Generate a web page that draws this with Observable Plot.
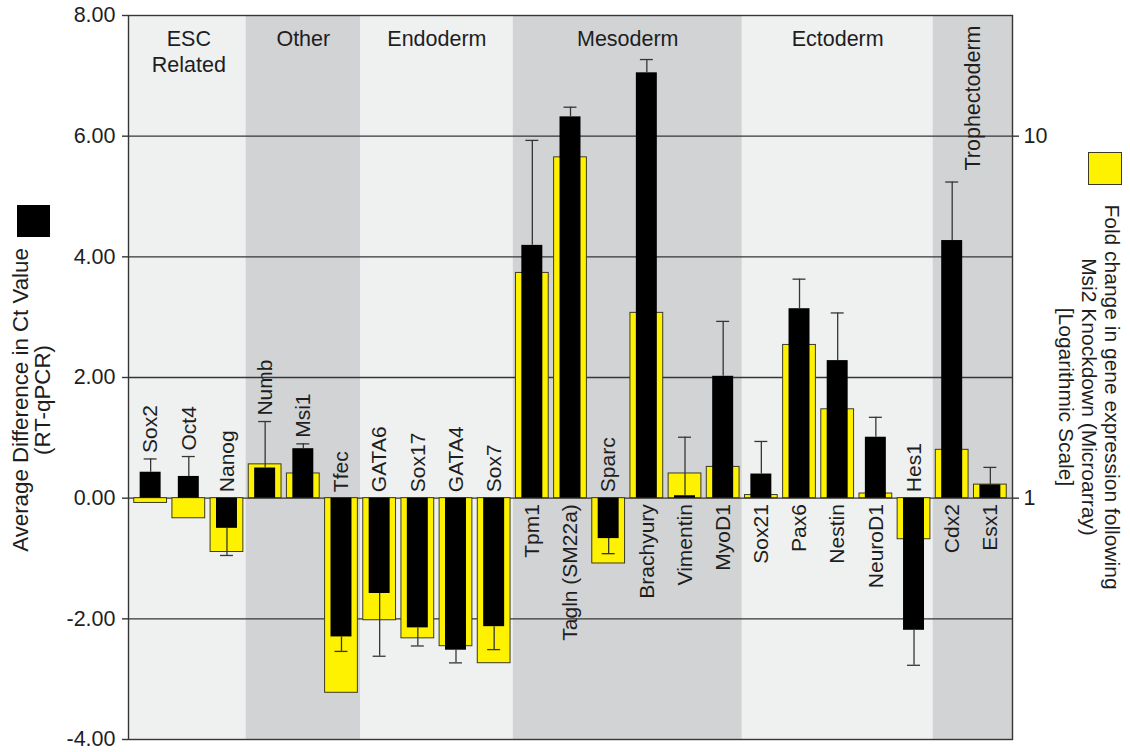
<!DOCTYPE html>
<html>
<head>
<meta charset="utf-8">
<script src="https://cdn.jsdelivr.net/npm/d3@7"></script>
<script src="https://cdn.jsdelivr.net/npm/@observablehq/plot@0.6"></script>
<style>
  html, body { margin: 0; padding: 0; background: #fff; }
  #chart svg { display: block; }
</style>
</head>
<body>
<div id="chart"></div>
<script>
// Genes in plotting order
const genes = ["Sox2", "Oct4", "Nanog", "Numb", "Msi1", "Tfec", "GATA6", "Sox17", "GATA4", "Sox7",
  "Tpm1", "Tagln (SM22a)", "Sparc", "Brachyury", "Vimentin", "MyoD1",
  "Sox21", "Pax6", "Nestin", "NeuroD1", "Hes1", "Cdx2", "Esx1"];

// Average difference in Ct value (RT-qPCR) and its error
const ctDiff = [0.43, 0.36, -0.50, 0.50, 0.82, -2.30, -1.58, -2.15, -2.52, -2.13,
  4.19, 6.32, -0.67, 7.05, 0.04, 2.02, 0.40, 3.14, 2.28, 1.01, -2.19, 4.27, 0.22];
const ctErr = [0.22, 0.33, 0.45, 0.77, 0.08, 0.24, 1.04, 0.30, 0.21, 0.38,
  1.74, 0.16, 0.25, 0.22, 0.97, 0.91, 0.54, 0.49, 0.79, 0.33, 0.58, 0.97, 0.29];

// Fold change in gene expression after Msi2 knockdown (microarray)
const foldChange = [0.97, 0.88, 0.71, 1.24, 1.17, 0.29, 0.46, 0.41, 0.39, 0.35,
  4.19, 8.74, 0.66, 3.25, 1.17, 1.22, 1.02, 2.65, 1.76, 1.03, 0.77, 1.36, 1.09];

// Lineage groups (consecutive genes)
const groupNames = ["ESC\nRelated", "Other", "Endoderm", "Mesoderm", "Ectoderm", "Trophectoderm"];
const groupSizes = [3, 3, 4, 6, 5, 2];

// Axis ticks
const leftTicks = [-4, -2, 0, 2, 4, 6, 8];
const rightTicks = [1, 10];

// One decade of fold change spans 6 Ct units on the shared vertical scale
const ctPerDecade = 6;
const foldToY = f => ctPerDecade * Math.log10(f);

const FONT = "'Liberation Sans', Arial, Helvetica, sans-serif";
const LIGHT = "#eff0f0", DARK = "#d1d3d5";
const YELLOW = "#fff200";
const INK = "#1e1e1e";
const LINE = "#363636";

// group extents in gene-index units
let acc = 0;
const groups = groupNames.map((name, g) => {
  const start = acc; acc += groupSizes[g];
  return {name, g, start, end: acc, mid: (start + acc) / 2};
});
const groupOf = i => groups.findIndex(gr => i >= gr.start && i < gr.end);

const rows = genes.map((gene, i) => ({
  gene, i,
  ct: ctDiff[i],
  err: ctErr[i],
  fold: foldChange[i],
  g: groupOf(i)
}));

const tipOf = d => d.ct + Math.sign(d.ct) * d.err;
const labelAbove = d => d.g < 2 || d.ct < 0;
const aboveAnchor = d => Math.max(0, d.ct > 0 ? tipOf(d) : 0, foldToY(d.fold));

const xPad = 0.08;
const xMin = -xPad, xMax = genes.length + xPad;
const yMin = leftTicks[0], yMax = leftTicks[leftTicks.length - 1];

// background bands reach the frame edges at both ends
const bands = groups.map(gr => ({
  ...gr,
  x1: gr.start === 0 ? xMin : gr.start,
  x2: gr.end === genes.length ? xMax : gr.end
}));

const chart = Plot.plot({
  width: 1130,
  height: 752,
  marginLeft: 128,
  marginRight: 118,
  marginTop: 15,
  marginBottom: 13,
  style: {fontFamily: FONT, fontSize: "21px", color: INK, background: "#fff"},
  x: {domain: [xMin, xMax], axis: null},
  y: {domain: [yMin, yMax]},
  marks: [
    // lineage background bands
    Plot.rect(bands.filter(b => b.g % 2 === 0), {x1: "x1", x2: "x2", y1: yMin, y2: yMax, fill: LIGHT}),
    Plot.rect(bands.filter(b => b.g % 2 === 1), {x1: "x1", x2: "x2", y1: yMin, y2: yMax, fill: DARK}),
    // horizontal gridlines
    Plot.ruleY(leftTicks.slice(1, -1), {stroke: LINE, strokeWidth: 1.4}),
    // microarray fold change (yellow, wide)
    Plot.rect(rows, {
      x1: d => d.i, x2: d => d.i + 1, y1: 0, y2: d => foldToY(d.fold),
      insetLeft: 2.7, insetRight: 2.7,
      fill: YELLOW, stroke: "#3b3b25", strokeWidth: 1
    }),
    // RT-qPCR Ct difference (black, narrow)
    Plot.rect(rows, {
      x1: d => d.i, x2: d => d.i + 1, y1: 0, y2: "ct",
      insetLeft: 8.6, insetRight: 8.6, fill: "#000"
    }),
    // error bars
    Plot.ruleX(rows, {x: d => d.i + 0.5, y1: "ct", y2: tipOf, stroke: LINE, strokeWidth: 1.3}),
    Plot.ruleY(rows, {x1: d => d.i + 0.33, x2: d => d.i + 0.67, y: tipOf, stroke: LINE, strokeWidth: 1.3}),
    // gene labels
    Plot.text(rows.filter(labelAbove), {
      x: d => d.i + 0.5, y: aboveAnchor, text: "gene",
      rotate: -90, textAnchor: "start", lineAnchor: "middle", dy: -6,
      fontSize: 21, fill: INK
    }),
    Plot.text(rows.filter(d => !labelAbove(d)), {
      x: d => d.i + 0.5, y: 0, text: "gene",
      rotate: -90, textAnchor: "end", lineAnchor: "middle", dy: 6,
      fontSize: 21, fill: INK
    }),
    // group titles
    Plot.text(groups.filter(gr => gr.g < groups.length - 1), {
      x: "mid", y: yMax, text: "name",
      lineAnchor: "top", lineHeight: 1.2, dy: 12,
      fontSize: 21.5, fill: INK
    }),
    Plot.text(groups.filter(gr => gr.g === groups.length - 1), {
      x: "mid", y: yMax, text: "name",
      rotate: -90, textAnchor: "end", lineAnchor: "middle", dy: 10, dx: 2,
      fontSize: 21.5, fill: INK
    }),
    // left axis: Ct difference
    Plot.axisY(leftTicks, {
      anchor: "left", tickFormat: d => d.toFixed(2),
      tickSize: 6, tickPadding: 7, label: null,
      fontSize: 21.5, fill: INK, stroke: LINE, strokeWidth: 1.4
    }),
    // right axis: fold change (log)
    Plot.axisY(rightTicks.map(foldToY), {
      anchor: "right", tickFormat: v => String(Math.round(10 ** (v / ctPerDecade))),
      tickSize: 6, tickPadding: 5, label: null,
      fontSize: 21.5, fill: INK, stroke: LINE, strokeWidth: 1.4
    }),
    Plot.frame({stroke: LINE, strokeWidth: 1.4})
  ]
});

// legend swatches and axis titles in the margins
const svg = d3.select(chart);
const addText = (lines, x0, dx, y, angle, size) => {
  lines.forEach((t, k) => {
    svg.append("text")
      .attr("transform", `translate(${x0 + k * dx},${y}) rotate(${angle})`)
      .attr("text-anchor", "middle")
      .attr("dy", "0.35em")
      .attr("font-family", FONT)
      .attr("font-size", size)
      .attr("fill", INK)
      .text(t);
  });
};
svg.append("rect").attr("x", 17).attr("y", 205).attr("width", 33).attr("height", 32).attr("fill", "#000");
addText(["Average Difference in Ct Value", "(RT-qPCR)"], 20, 22, 400, -90, 22.3);
svg.append("rect").attr("x", 1088.5).attr("y", 152.5).attr("width", 33).attr("height", 32)
  .attr("fill", YELLOW).attr("stroke", "#3b3b25").attr("stroke-width", 1);
addText(["Fold change in gene expression following", "Msi2 Knockdown (Microarray)", "[Logarithmic Scale]"], 1112, -23, 397, 90, 21);

document.getElementById("chart").appendChild(chart);
</script>
</body>
</html>
